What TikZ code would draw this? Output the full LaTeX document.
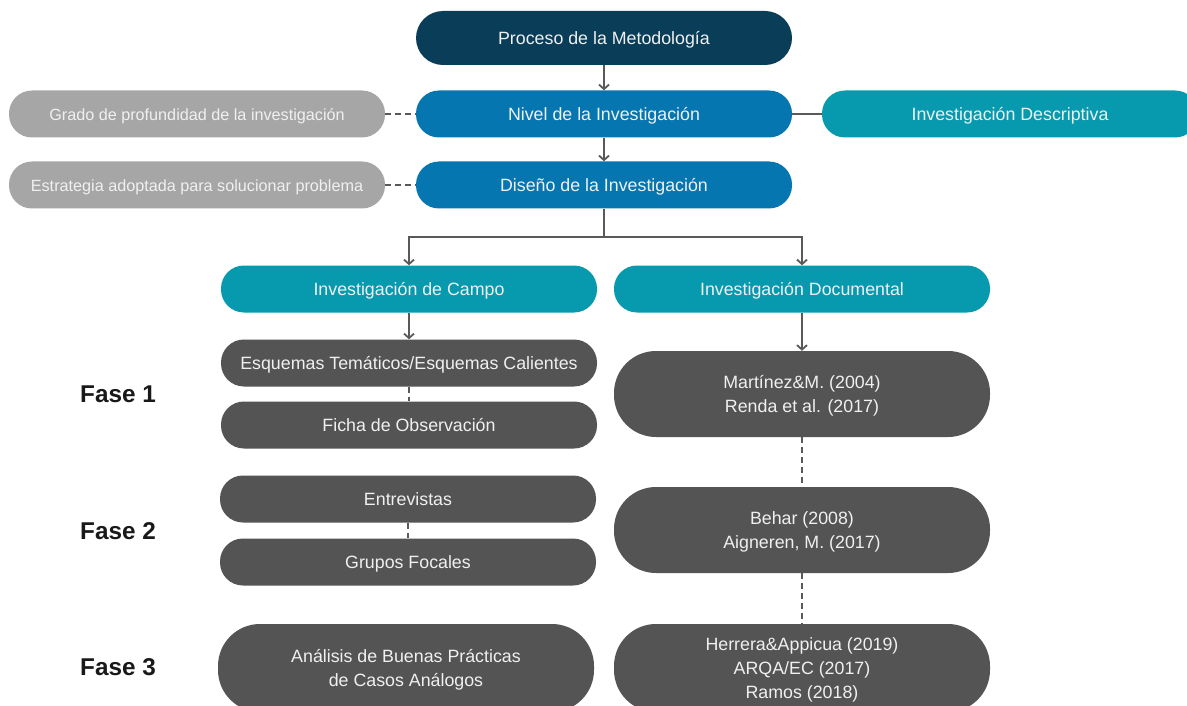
\documentclass[tikz,border=0pt]{standalone}
\usepackage{fontspec}
\setmainfont{Liberation Sans}
\usetikzlibrary{arrows.meta,positioning}
\definecolor{navy}{HTML}{0A3D57}
\definecolor{azul}{HTML}{0676B0}
\definecolor{turq}{HTML}{079AAE}
\definecolor{grisclaro}{HTML}{A6A6A6}
\definecolor{grisosc}{HTML}{545454}
\definecolor{linea}{HTML}{595959}
\definecolor{letra}{HTML}{F0F0F0}
\tikzset{
  caja/.style={rectangle, rounded corners=23pt, minimum width=376pt, minimum height=47pt,
    inner sep=0pt, text=letra, align=center, font=\fontsize{17.8}{24}\selectfont},
  unalinea/.style={text height=16.5pt, text depth=3pt},
  cajaalta/.style={caja, rounded corners=42pt, minimum height=86pt, text depth=0pt},
  nota/.style={caja, unalinea, fill=grisclaro, font=\fontsize{16.2}{20}\selectfont},
  fase/.style={font=\fontsize{24.3}{26}\selectfont\bfseries, text=black!90},
  flecha/.style={draw=linea, line width=1.8pt, -{Straight Barb[length=4.5pt,width=10pt]}},
  linea/.style={draw=linea, line width=1.8pt},
  guiones/.style={draw=linea, line width=1.8pt, dash pattern=on 6pt off 4pt}
}
\begin{document}
\begin{tikzpicture}[x=1pt,y=-1pt]
    \clip (0,0) rectangle (1187,706);
    \fill[white] (0,0) rectangle (1187,706);

    \node[caja, unalinea, fill=navy, minimum height=54pt, rounded corners=27pt] (proceso) at (604,38) {Proceso de la Metodología};
    \node[caja, unalinea, fill=azul] (nivel) at (604,114) {Nivel de la Investigación};
    \node[caja, unalinea, fill=azul] (diseno) at (604,185) {Diseño de la Investigación};
    \node[nota] (grado) at (197,114) {Grado de profundidad de la investigación};
    \node[nota] (estrategia) at (197,185) {Estrategia adoptada para solucionar problema};
    \node[caja, unalinea, fill=turq] (descriptiva) at (1010,114) {Investigación Descriptiva};

    \node[caja, unalinea, fill=turq] (campo) at (409,289) {Investigación de Campo};
    \node[caja, unalinea, fill=turq] (documental) at (802,289) {Investigación Documental};

    \node[caja, unalinea, fill=grisosc] (esquemas) at (409,363) {Esquemas Temáticos/Esquemas Calientes};
    \node[caja, unalinea, fill=grisosc] (ficha) at (409,425) {Ficha de Observación};
    \node[caja, unalinea, fill=grisosc] (entrevistas) at (408,499) {Entrevistas};
    \node[caja, unalinea, fill=grisosc] (grupos) at (408,562) {Grupos Focales};
    \node[cajaalta, fill=grisosc, minimum height=88pt] (analisis) at (406,668) {Análisis de Buenas Prácticas\\de Casos Análogos};

    \node[cajaalta, fill=grisosc] (martinez) at (802,394) {Martínez\&M. (2004)\\Renda et al. (2017)};
    \node[cajaalta, fill=grisosc] (behar) at (802,530) {Behar (2008)\\Aigneren, M. (2017)};
    \node[cajaalta, fill=grisosc, minimum height=88pt] (herrera) at (802,668) {Herrera\&Appicua (2019)\\ARQA/EC (2017)\\Ramos (2018)};

    \node[fase] (fase1) at (118,394) {Fase 1};
    \node[fase] (fase2) at (118,531) {Fase 2};
    \node[fase] (fase3) at (118,667) {Fase 3};

    \draw[flecha] (proceso) -- (nivel);
    \draw[flecha] (nivel) -- (diseno);
    \draw[guiones] (grado) -- (nivel);
    \draw[guiones] (estrategia) -- (diseno);
    \draw[linea] (nivel) -- (descriptiva);

    \coordinate (rama) at (604,237);
    \draw[linea] (diseno) -- (rama);
    \draw[flecha] (rama) -| (campo.north);
    \draw[flecha] (rama) -| (documental.north);

    \draw[flecha] (campo) -- (esquemas);
    \draw[guiones] (esquemas) -- (ficha);
    \draw[guiones] (entrevistas) -- (grupos);
    \draw[flecha] (documental) -- (martinez);
    \draw[guiones] (martinez) -- (behar);
    \draw[guiones] (behar) -- (herrera);
\end{tikzpicture}
\end{document}
